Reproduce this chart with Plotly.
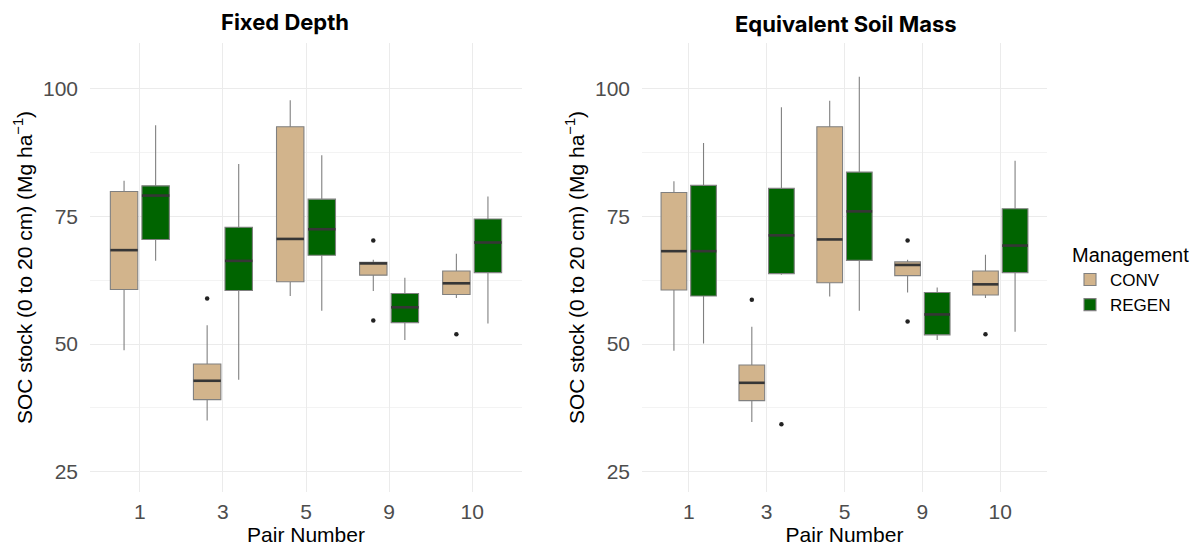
import numpy as np
import plotly.graph_objects as go

# ---------------- data ----------------
pairs = ["1", "3", "5", "9", "10"]
groups = ["CONV", "REGEN"]

# Fixed Depth
fd_conv_low = [48.8, 35.0, 59.4, 60.4, 59.0]
fd_conv_q1 = [60.7, 39.1, 62.2, 63.5, 59.7]
fd_conv_med = [68.4, 42.8, 70.6, 65.8, 61.9]
fd_conv_q3 = [79.9, 46.1, 92.6, 66.0, 64.3]
fd_conv_up = [82.0, 53.7, 97.8, 66.5, 67.7]
fd_conv_out_pair = ["3", "9", "9", "10"]
fd_conv_out_val = [58.9, 70.3, 54.6, 51.9]

fd_regen_low = [66.3, 43.0, 56.5, 50.8, 54.0]
fd_regen_q1 = [70.5, 60.5, 67.4, 54.2, 64.0]
fd_regen_med = [79.1, 66.3, 72.5, 57.2, 69.9]
fd_regen_q3 = [81.0, 72.9, 78.4, 59.9, 74.5]
fd_regen_up = [92.9, 85.3, 87.0, 63.0, 78.9]
fd_regen_out_pair = []
fd_regen_out_val = []

# Equivalent Soil Mass
esm_conv_low = [48.7, 34.7, 59.3, 60.1, 59.0]
esm_conv_q1 = [60.6, 38.9, 62.0, 63.4, 59.6]
esm_conv_med = [68.2, 42.4, 70.5, 65.5, 61.7]
esm_conv_q3 = [79.7, 45.9, 92.6, 66.1, 64.3]
esm_conv_up = [81.9, 53.4, 97.7, 66.5, 67.5]
esm_conv_out_pair = ["3", "9", "9", "10"]
esm_conv_out_val = [58.7, 70.3, 54.4, 51.9]

esm_regen_low = [50.1, 63.6, 56.5, 50.8, 52.4]
esm_regen_q1 = [59.4, 63.8, 66.4, 51.8, 64.0]
esm_regen_med = [68.2, 71.3, 76.0, 55.8, 69.3]
esm_regen_q3 = [81.1, 80.5, 83.7, 60.1, 76.5]
esm_regen_up = [89.4, 96.4, 102.4, 61.1, 85.9]
esm_regen_out_pair = ["3"]
esm_regen_out_val = [34.3]

y_ticks = [25, 50, 75, 100]

# ---------------- style ----------------
fill_colors = {"CONV": "#D2B48C", "REGEN": "#006400"}
dodge = {"CONV": -0.19, "REGEN": 0.19}
box_w = 0.33
outline = "#808080"
median_col = "#363636"
grid_col = "#EBEBEB"
FONT = "Liberation Sans, Arial, sans-serif"
tick_font = dict(family=FONT, size=21, color="#4D4D4D")
title_font = dict(family=FONT, size=21, color="#000000")

panels = [
    dict(
        xref="x", yref="y",
        stats={
            "CONV": (fd_conv_low, fd_conv_q1, fd_conv_med, fd_conv_q3, fd_conv_up,
                     fd_conv_out_pair, fd_conv_out_val),
            "REGEN": (fd_regen_low, fd_regen_q1, fd_regen_med, fd_regen_q3, fd_regen_up,
                      fd_regen_out_pair, fd_regen_out_val),
        },
    ),
    dict(
        xref="x2", yref="y2",
        stats={
            "CONV": (esm_conv_low, esm_conv_q1, esm_conv_med, esm_conv_q3, esm_conv_up,
                     esm_conv_out_pair, esm_conv_out_val),
            "REGEN": (esm_regen_low, esm_regen_q1, esm_regen_med, esm_regen_q3, esm_regen_up,
                      esm_regen_out_pair, esm_regen_out_val),
        },
    ),
]

pos = {p: i for i, p in enumerate(pairs)}
fig = go.Figure()

for pi, panel in enumerate(panels):
    for g in groups:
        low, q1, med, q3, up, op, ov = panel["stats"][g]
        xs = np.arange(len(pairs)) + dodge[g]
        fig.add_trace(go.Box(
            x=xs, q1=q1, median=med, q3=q3, lowerfence=low, upperfence=up,
            width=box_w, whiskerwidth=0,
            fillcolor=fill_colors[g],
            line=dict(color=outline, width=1.1),
            name=g, legendgroup=g, showlegend=(pi == 0),
            boxpoints=False, hoverinfo="skip",
            xaxis=panel["xref"], yaxis=panel["yref"],
        ))
        # thicker median lines (ggplot style)
        mx, my = [], []
        for x0, m in zip(xs, med):
            mx += [x0 - box_w / 2, x0 + box_w / 2, None]
            my += [m, m, None]
        fig.add_trace(go.Scatter(
            x=mx, y=my, mode="lines",
            line=dict(color=median_col, width=2.6),
            showlegend=False, hoverinfo="skip",
            xaxis=panel["xref"], yaxis=panel["yref"],
        ))
        if len(ov):
            fig.add_trace(go.Scatter(
                x=[pos[p] + dodge[g] for p in op], y=ov, mode="markers",
                marker=dict(color="#222222", size=4.5),
                showlegend=False, hoverinfo="skip",
                xaxis=panel["xref"], yaxis=panel["yref"],
            ))

W, H = 1203, 548
y_dom = [1 - 492 / H, 1 - 43 / H]

common_x = dict(
    tickvals=list(range(len(pairs))), ticktext=pairs,
    range=[-0.6, len(pairs) - 0.4],
    showgrid=True, gridcolor=grid_col, gridwidth=1,
    zeroline=False, showline=False, ticks="",
    tickfont=tick_font, ticklabelstandoff=5,
    title=dict(text="Pair Number", font=title_font, standoff=2),
    automargin=False,
)
common_y = dict(
    range=[21, 109], tickvals=y_ticks,
    showgrid=True, gridcolor=grid_col, gridwidth=1,
    minor=dict(showgrid=True, gridcolor="#F3F3F3", gridwidth=0.8,
               tickvals=[37.5, 62.5, 87.5]),
    zeroline=False, showline=False, ticks="",
    tickfont=tick_font, ticklabelstandoff=11,
    title=dict(text="SOC stock (0 to 20 cm) (Mg ha<sup>−1</sup>)",
               font=title_font, standoff=4),
    domain=y_dom, automargin=False,
)

fig.update_layout(
    width=W, height=H,
    margin=dict(l=0, r=0, t=0, b=0),
    paper_bgcolor="white", plot_bgcolor="white",
    boxmode="overlay",
    xaxis=dict(common_x, domain=[90 / W, 522 / W], anchor="y"),
    yaxis=dict(common_y, anchor="x"),
    xaxis2=dict(common_x, domain=[642 / W, 1047 / W], anchor="y2"),
    yaxis2=dict(common_y, anchor="x2"),
    legend=dict(
        title=dict(text="Management", font=dict(family=FONT, size=20, color="#000")),
        font=dict(family=FONT, size=17, color="#000"),
        x=1070 / W, xanchor="left", y=1 - 236 / H, yanchor="top",
        tracegroupgap=0, itemwidth=30, bgcolor="rgba(0,0,0,0)",
    ),
    annotations=[
        dict(text="<b>Fixed Depth</b>", x=285 / W, y=1 - 22 / H, xref="paper", yref="paper",
             showarrow=False, xanchor="center", yanchor="middle",
             font=dict(family="Inter, Lato, sans-serif", size=22, color="#000")),
        dict(text="<b>Equivalent Soil Mass</b>", x=846 / W, y=1 - 24 / H, xref="paper", yref="paper",
             showarrow=False, xanchor="center", yanchor="middle",
             font=dict(family="Inter, Lato, sans-serif", size=22, color="#000")),
    ],
)

fig.write_html("out.html")
